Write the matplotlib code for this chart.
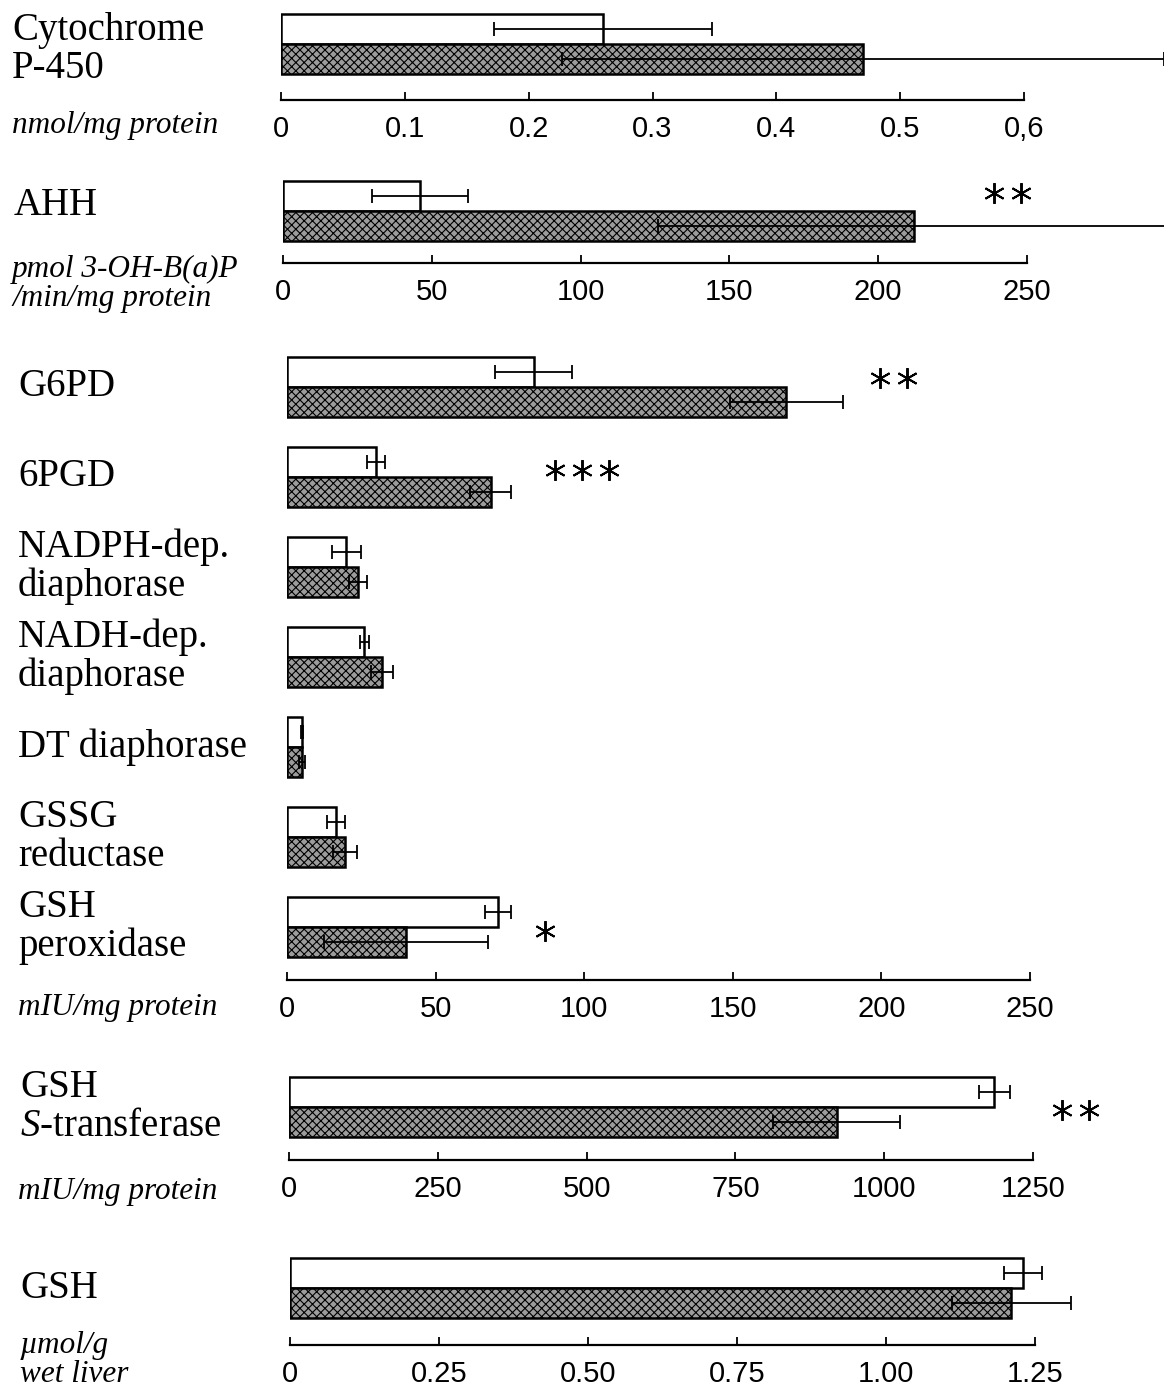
import matplotlib.pyplot as plt
from matplotlib import transforms
import numpy as np

plt.rcParams['font.family'] = 'Liberation Serif'
plt.rcParams['hatch.linewidth'] = 0.8
plt.rcParams['mathtext.fontset'] = 'custom'
plt.rcParams['mathtext.it'] = 'Liberation Serif:italic'
plt.rcParams['mathtext.rm'] = 'Liberation Serif'

# Cytochrome P-450, nmol/mg protein
cyt_names = ["Cytochrome\nP-450"]
cyt_ctrl = [0.26]
cyt_ctrl_sd = [0.088]
cyt_trt = [0.47]
cyt_trt_sd = [0.243]
cyt_ticks = [0, 0.1, 0.2, 0.3, 0.4, 0.5, 0.6]
cyt_ticklabels = ["0", "0.1", "0.2", "0.3", "0.4", "0.5", "0,6"]

# AHH, pmol 3-OH-B(a)P/min/mg protein
ahh_names = ["AHH"]
ahh_ctrl = [46]
ahh_ctrl_sd = [16]
ahh_trt = [212]
ahh_trt_sd = [86]
ahh_ticks = [0, 50, 100, 150, 200, 250]
ahh_sig = ["**"]
ahh_sig_x = [243.6]

# enzymes, mIU/mg protein
enz_names = ["G6PD", "6PGD", "NADPH-dep.\ndiaphorase", "NADH-dep.\ndiaphorase",
             "DT diaphorase", "GSSG\nreductase", "GSH\nperoxidase"]
enz_ctrl = [83, 30, 20, 26, 5, 16.5, 71]
enz_ctrl_sd = [13, 3, 5, 1.5, 0.4, 3, 4.5]
enz_trt = [168, 68.5, 24, 31.8, 5, 19.5, 40]
enz_trt_sd = [19, 7, 3, 3.7, 1, 4, 27.5]
enz_ticks = [0, 50, 100, 150, 200, 250]
enz_sig = ["**", "***", "", "", "", "", "*"]
enz_sig_x = [204, 99.3, 0, 0, 0, 0, 86.8]

# GSH S-transferase, mIU/mg protein
gst_names = ["GSH\n$\\mathit{S}$-transferase"]
gst_ctrl = [1185]
gst_ctrl_sd = [26]
gst_trt = [920]
gst_trt_sd = [107]
gst_ticks = [0, 250, 500, 750, 1000, 1250]
gst_sig = ["**"]
gst_sig_x = [1322]

# GSH, umol/g wet liver
gsh_names = ["GSH"]
gsh_ctrl = [1.23]
gsh_ctrl_sd = [0.032]
gsh_trt = [1.21]
gsh_trt_sd = [0.10]
gsh_ticks = [0, 0.25, 0.5, 0.75, 1.0, 1.25]
gsh_ticklabels = ["0", "0.25", "0.50", "0.75", "1.00", "1.25"]

W, H = 1164, 1392
UNIT = 90.0  # pixels per category row
fig = plt.figure(figsize=(W / 100, H / 100), dpi=100)


def panel(top, axis_y, x0, x_end, center0, names, ctrl, ctrl_sd, trt, trt_sd,
          ticks, ticklabels=None, sig=None, sig_x=None, sig_dy=None, label_x=15, label_dy=None):
    scale = (x_end - x0) / ticks[-1]
    ax = fig.add_axes([x0 / W, 1 - axis_y / H, (W - x0) / W, (axis_y - top) / H])
    ax.set_xlim(0, (W - x0) / scale)
    ax.set_ylim((axis_y - center0) / UNIT, -(center0 - top) / UNIT)
    y = np.arange(len(ctrl))
    h = 30 / UNIT
    ax.barh(y - h / 2, ctrl, height=h, color='white', edgecolor='black', linewidth=1.8, zorder=2)
    ax.barh(y + h / 2, trt, height=h, color='#9c9c9c', edgecolor='black', hatch='xxxx',
            linewidth=1.8, zorder=2)
    ax.errorbar(ctrl, y - h / 2, xerr=ctrl_sd, fmt='none', ecolor='black', elinewidth=1.3,
                capsize=5, capthick=1.3, zorder=3)
    ax.errorbar(trt, y + h / 2, xerr=trt_sd, fmt='none', ecolor='black', elinewidth=1.3,
                capsize=5, capthick=1.3, zorder=3)

    for s in ['top', 'left', 'right']:
        ax.spines[s].set_visible(False)
    ax.spines['bottom'].set_linewidth(1.6)
    ax.spines['bottom'].set_bounds(0, ticks[-1])
    ax.set_yticks([])
    ax.set_xticks(ticks)
    ax.set_xticklabels(ticklabels if ticklabels else [str(t) for t in ticks],
                       fontfamily='Liberation Sans', fontsize=21)
    ax.tick_params(axis='x', direction='in', length=6, width=1.3, pad=11)

    blend = transforms.blended_transform_factory(fig.transFigure, ax.transData)
    for i, name in enumerate(names):
        dy = label_dy[i] if label_dy else 0
        ax.text(label_x / W, i + dy, name, transform=blend, va='center', ha='left',
                fontsize=28, linespacing=1.06)

    if sig:
        for i, s in enumerate(sig):
            n = len(s)
            for k in range(n):
                tr = transforms.offset_copy(ax.transData, fig=fig, x=(k - (n - 1) / 2) * 27,
                                            y=0, units='dots')
                ax.plot([sig_x[i]], [i + sig_dy[i]], marker=(6, 2, 0), ms=15, mew=1.4,
                        color='black', transform=tr, clip_on=False, zorder=4)
    return ax


panel(0, 100, 281, 1024, 44, cyt_names, cyt_ctrl, cyt_ctrl_sd, cyt_trt, cyt_trt_sd,
      cyt_ticks, cyt_ticklabels, label_x=12, label_dy=[0.06])
panel(150, 263, 283, 1027, 211, ahh_names, ahh_ctrl, ahh_ctrl_sd, ahh_trt, ahh_trt_sd,
      ahh_ticks, sig=ahh_sig, sig_x=ahh_sig_x, sig_dy=[-0.2], label_x=14, label_dy=[-0.06])
panel(330, 980, 287, 1030, 387, enz_names, enz_ctrl, enz_ctrl_sd, enz_trt, enz_trt_sd,
      enz_ticks, sig=enz_sig, sig_x=enz_sig_x, sig_dy=[-0.1, -0.08, 0, 0, 0, 0, 0.04], label_x=18)
panel(1050, 1160, 289, 1033, 1107, gst_names, gst_ctrl, gst_ctrl_sd, gst_trt, gst_trt_sd,
      gst_ticks, sig=gst_sig, sig_x=gst_sig_x, sig_dy=[0.03], label_x=20)
panel(1235, 1345, 290, 1035, 1288, gsh_names, gsh_ctrl, gsh_ctrl_sd, gsh_trt, gsh_trt_sd,
      gsh_ticks, gsh_ticklabels, label_x=20)

# unit labels
units = ["nmol/mg protein", "pmol 3-OH-B(a)P\n/min/mg protein", "mIU/mg protein",
         "mIU/mg protein", "µmol/g\nwet liver"]
unit_pos = [(12, 125), (12, 284), (18, 1008), (18, 1192), (20, 1360)]
for u, (x, y) in zip(units, unit_pos):
    fig.text(x / W, 1 - y / H, u, style='italic', fontsize=22.5, va='center', ha='left',
             linespacing=0.98)

plt.savefig('out.png', dpi=100)
